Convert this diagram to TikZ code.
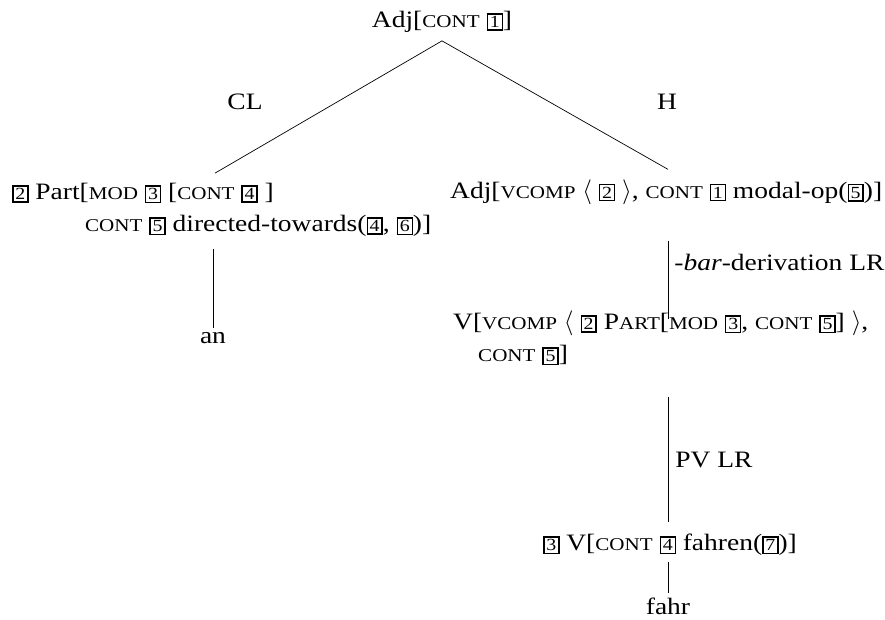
\documentclass[tikz,border=0pt]{standalone}
\usepackage{fontspec}
\setmainfont{Liberation Serif}[FakeStretch=1.17]
\usetikzlibrary{calc}
\newcommand\smc[1]{{\fontsize{18}{18}\selectfont #1}}
\newcommand\tg[1]{{\setlength\fboxsep{1.8pt}\setlength\fboxrule{1.4pt}\fbox{\fontsize{17}{17}\selectfont #1}}}
\newcommand\la{\ensuremath{\big\langle}}
\newcommand\ra{\ensuremath{\big\rangle}}
\begin{document}
\begin{tikzpicture}[x=1pt,y=-1pt,
  lbl/.style={font=\fontsize{23.5}{32}\selectfont, inner sep=0pt},
  tn/.style={font=\fontsize{23.5}{32}\selectfont, inner sep=0pt, align=left},
  edge/.style={line width=0.7pt}]
\useasboundingbox (0,0) rectangle (885,619);
\node[tn] (root) at (442,22) {Adj[\smc{CONT} \tg{1}]};
\node[lbl] (cl) at (245,102) {CL};
\node[lbl] (h) at (667,102) {H};
\node[tn, anchor=west] (left) at (12,210) {\tg{2} Part[\smc{MOD} \tg{3} [\smc{CONT} \tg{4} ]\\
\hspace*{73pt}\smc{CONT} \tg{5} directed-towards(\tg{4}, \tg{6})]};
\node[tn] (an) at (213,338) {an};
\node[tn, anchor=west] (right) at (450,192) {Adj[\smc{VCOMP} \la\ \tg{2} \ra, \smc{CONT} \tg{1} modal-op(\tg{5})]};
\node[tn, anchor=west] (v) at (453,338) {V[\smc{VCOMP} \la\ \tg{2} P\smc{ART}[\smc{MOD} \tg{3}, \smc{CONT} \tg{5}] \ra,\\
\hspace*{25pt}\smc{CONT} \tg{5}]};
\node[tn] (bot) at (670,545) {\tg{3} V[\smc{CONT} \tg{4} fahren(\tg{7})]};
\node[tn] (fahr) at (668,606) {fahr};
\draw[edge] ($(root.south)+(0,8)$) -- ($(an |- left.north)+(2,-10)$);
\draw[edge] ($(root.south)+(0,8)$) -- ($(fahr |- right.north)+(0,-10)$);
\draw[edge] ($(left.south -| an)+(0,12)$) -- ($(an.north)+(0,-4)$);
\draw[edge] ($(right.south -| fahr)+(0,36)$) -- ($(v.north -| fahr)+(0,8)$)
  node[lbl, pos=0.28, anchor=west, xshift=6pt] (bar) {-\textit{bar}-derivation LR};
\draw[edge] ($(v.south -| fahr)+(0,32)$) -- ($(bot.north -| fahr)+(0,-12)$)
  node[lbl, midway, anchor=west, xshift=7pt] (pv) {PV LR};
\draw[edge] ($(bot.south -| fahr)+(0,6)$) -- ($(fahr.north)+(0,-4)$);
\end{tikzpicture}
\end{document}
